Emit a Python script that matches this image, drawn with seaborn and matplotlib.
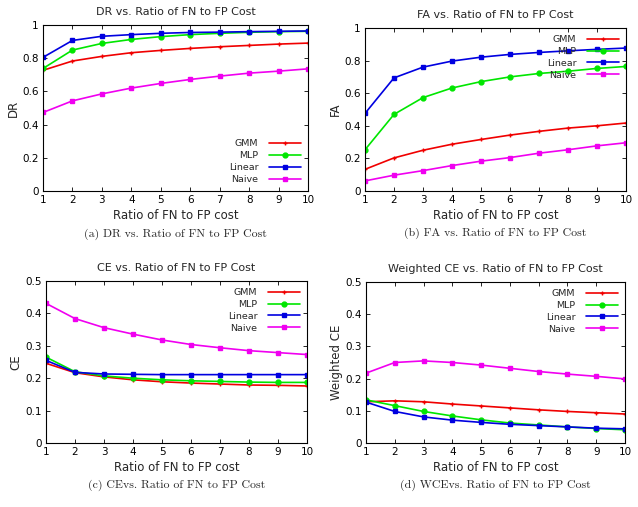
import matplotlib

matplotlib.use("Agg")
import matplotlib.pyplot as plt
import pandas as pd
import seaborn as sns

ratio = [1, 2, 3, 4, 5, 6, 7, 8, 9, 10]
methods = ["GMM", "MLP", "Linear", "Naive"]

dr = {
    "GMM": [0.727, 0.783, 0.811, 0.833, 0.847, 0.859, 0.869, 0.877, 0.885, 0.891],
    "MLP": [0.738, 0.849, 0.889, 0.913, 0.930, 0.942, 0.950, 0.956, 0.960, 0.962],
    "Linear": [0.805, 0.907, 0.932, 0.942, 0.950, 0.955, 0.957, 0.960, 0.962, 0.964],
    "Naive": [0.473, 0.543, 0.585, 0.620, 0.648, 0.672, 0.692, 0.710, 0.722, 0.736],
}
fa = {
    "GMM": [0.133, 0.203, 0.250, 0.287, 0.316, 0.343, 0.366, 0.386, 0.400, 0.417],
    "MLP": [0.253, 0.470, 0.573, 0.632, 0.671, 0.700, 0.721, 0.735, 0.752, 0.764],
    "Linear": [0.476, 0.694, 0.760, 0.797, 0.821, 0.838, 0.850, 0.860, 0.869, 0.877],
    "Naive": [0.062, 0.097, 0.125, 0.156, 0.183, 0.205, 0.232, 0.253, 0.277, 0.296],
}
ce = {
    "GMM": [0.246, 0.217, 0.204, 0.195, 0.189, 0.185, 0.182, 0.179, 0.178, 0.176],
    "MLP": [0.265, 0.220, 0.207, 0.200, 0.195, 0.192, 0.190, 0.188, 0.187, 0.187],
    "Linear": [0.255, 0.218, 0.213, 0.212, 0.211, 0.211, 0.211, 0.211, 0.211, 0.211],
    "Naive": [0.431, 0.384, 0.356, 0.336, 0.318, 0.304, 0.294, 0.285, 0.279, 0.273],
}
wce = {
    "GMM": [0.128, 0.131, 0.128, 0.121, 0.115, 0.109, 0.103, 0.098, 0.094, 0.090],
    "MLP": [0.134, 0.116, 0.098, 0.084, 0.072, 0.062, 0.056, 0.050, 0.045, 0.041],
    "Linear": [0.127, 0.098, 0.081, 0.071, 0.064, 0.058, 0.054, 0.050, 0.046, 0.044],
    "Naive": [0.217, 0.250, 0.255, 0.250, 0.242, 0.232, 0.222, 0.214, 0.207, 0.199],
}

palette = {"GMM": "#f00000", "MLP": "#00e600", "Linear": "#0000e0", "Naive": "#f000f0"}
markers = {"GMM": "+", "MLP": "o", "Linear": "s", "Naive": "s"}

sns.set_theme(style="ticks")
plt.rcParams["font.family"] = ["DejaVu Sans"]

fig = plt.figure(figsize=(6.38, 5.07), dpi=100)
W, H = 638, 507

panels = [
    (dr, "DR vs. Ratio of FN to FP Cost", "DR", (0, 1), 0.2, "lower right",
     "(a) DR vs. Ratio of FN to FP Cost", (43, 25, 308, 191)),
    (fa, "FA vs. Ratio of FN to FP Cost", "FA", (0, 1), 0.2, "upper right",
     "(b) FA vs. Ratio of FN to FP Cost", (365, 28, 626, 191)),
    (ce, "CE vs. Ratio of FN to FP Cost", "CE", (0, 0.5), 0.1, "upper right",
     "(c) CEvs. Ratio of FN to FP Cost", (46, 281, 307, 443)),
    (wce, "Weighted CE vs. Ratio of FN to FP Cost", "Weighted CE", (0, 0.5), 0.1, "upper right",
     "(d) WCEvs. Ratio of FN to FP Cost", (366, 282, 625, 443)),
]

for data, title, ylab, ylim, step, loc, caption, (x0, y0, x1, y1) in panels:
    ax = fig.add_axes([x0 / W, 1 - y1 / H, (x1 - x0) / W, (y1 - y0) / H])
    for m in methods:
        df = pd.DataFrame({"ratio": ratio, "value": data[m]})
        sns.lineplot(data=df, x="ratio", y="value", color=palette[m], marker=markers[m],
                     markersize=3.5, markeredgewidth=1, markeredgecolor=palette[m],
                     linewidth=1.2, label=m, ax=ax)
    ax.set_xlim(1, 10)
    ax.set_ylim(*ylim)
    ax.set_xticks(ratio)
    n = int(round((ylim[1] - ylim[0]) / step))
    yt = [round(ylim[0] + i * step, 1) for i in range(n + 1)]
    ax.set_yticks(yt)
    ax.set_yticklabels(["0" if t == 0 else ("1" if t == 1 else f"{t:g}") for t in yt])
    ax.tick_params(direction="in", top=True, right=True, labelsize=7.5, length=3,
                   width=0.6, pad=3, colors="black")
    for s in ax.spines.values():
        s.set_linewidth(0.8)
        s.set_color("black")
    ax.set_title(title, fontsize=8, pad=7)
    ax.set_xlabel("Ratio of FN to FP cost", fontsize=8.5, labelpad=3)
    ax.set_ylabel(ylab, fontsize=8.5, labelpad=2)
    leg = ax.legend(loc=loc, frameon=False, markerfirst=False, fontsize=6.8,
                    handlelength=3.4, labelspacing=0.3, borderaxespad=0.25,
                    handletextpad=1.1, borderpad=0.5)
    leg._legend_box.align = "right"
    ax.text(0.5, -0.225, caption, transform=ax.transAxes, ha="center", va="top",
            fontsize=8.5, family=["cmr10", "DejaVu Serif"])

fig.savefig("out.png", dpi=100)
